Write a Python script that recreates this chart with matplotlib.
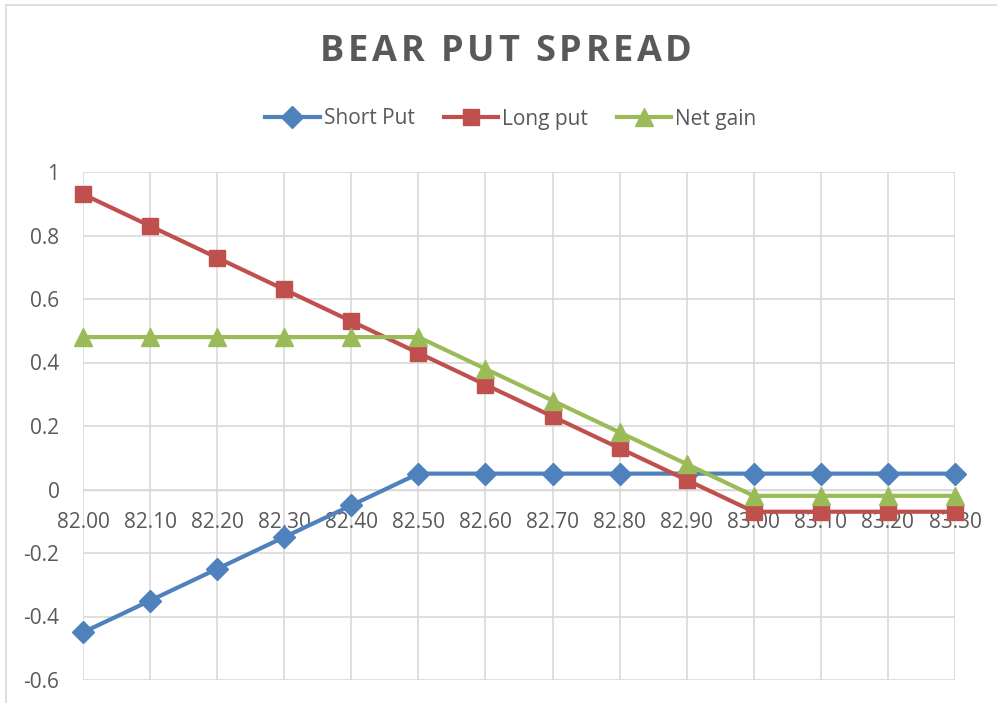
import matplotlib
matplotlib.use("Agg")
import matplotlib.pyplot as plt
from matplotlib.patches import Rectangle
from matplotlib.textpath import TextPath
from matplotlib.font_manager import FontProperties

categories = ["82.00", "82.10", "82.20", "82.30", "82.40", "82.50", "82.60",
              "82.70", "82.80", "82.90", "83.00", "83.10", "83.20", "83.30"]
short_put = [-0.45, -0.35, -0.25, -0.15, -0.05, 0.05, 0.05, 0.05, 0.05, 0.05, 0.05, 0.05, 0.05, 0.05]
long_put = [0.93, 0.83, 0.73, 0.63, 0.53, 0.43, 0.33, 0.23, 0.13, 0.03, -0.07, -0.07, -0.07, -0.07]
net_gain = [0.48, 0.48, 0.48, 0.48, 0.48, 0.48, 0.38, 0.28, 0.18, 0.08, -0.02, -0.02, -0.02, -0.02]
y_ticks = [-0.6, -0.4, -0.2, 0, 0.2, 0.4, 0.6, 0.8, 1]
y_labels = ["-0.6", "-0.4", "-0.2", "0", "0.2", "0.4", "0.6", "0.8", "1"]
title = "BEAR PUT SPREAD"

plt.rcParams['font.family'] = ['Open Sans', 'DejaVu Sans']
TXT = '#595959'
GRID = '#d9d9d9'

W, H = 997, 703
fig = plt.figure(figsize=(W / 100, H / 100), dpi=100)
fig.patch.set_facecolor('white')

# chart border (cropped)
fig.add_artist(Rectangle((6 / W, -0.05), 1.2, 1 - 5 / H + 0.05, transform=fig.transFigure,
                         fill=False, edgecolor=GRID, linewidth=1.2))

left, right, top, bottom = 83, 955, 172, 680
ax = fig.add_axes([left / W, 1 - bottom / H, (right - left) / W, (bottom - top) / H])
x = list(range(len(categories)))

ax.set_xlim(0, len(categories) - 1)
ax.set_ylim(-0.6, 1.0)
ax.set_yticks(y_ticks)
ax.set_yticklabels(y_labels)
ax.set_xticks(x)
ax.set_xticklabels(categories)

for s in ['top', 'right', 'left']:
    ax.spines[s].set_visible(False)
ax.spines['bottom'].set_position(('data', 0))
ax.spines['bottom'].set_color(GRID)
ax.spines['bottom'].set_linewidth(1)
ax.tick_params(axis='both', length=0, labelsize=15, colors=TXT)
ax.tick_params(axis='y', pad=17)
ax.tick_params(axis='x', pad=16)
ax.grid(True, color=GRID, linewidth=1.2)
ax.set_axisbelow(True)

lw = 3.0
l1, = ax.plot(x, short_put, color='#4F81BD', lw=lw, marker='D', ms=11, label='Short Put', clip_on=False, zorder=3)
l2, = ax.plot(x, long_put, color='#C0504D', lw=lw, marker='s', ms=12, label='Long put', clip_on=False, zorder=3)
l3, = ax.plot(x, net_gain, color='#9BBB59', lw=lw, marker='^', ms=13, label='Net gain', clip_on=False, zorder=3)

# title with letter spacing
fs = 26
fp = FontProperties(family='Open Sans', weight='bold', size=fs)
spacing = 3.6  # px
px_per_pt = 100 / 72
widths = []
for ch in title:
    if ch == ' ':
        tp = TextPath((0, 0), 'a a', prop=fp)
        tp2 = TextPath((0, 0), 'aa', prop=fp)
        w = (tp.get_extents().width - tp2.get_extents().width)
    else:
        tpa = TextPath((0, 0), ch + 'H', prop=fp)
        tph = TextPath((0, 0), 'H', prop=fp)
        w = tpa.get_extents().x1 - tph.get_extents().x1
    widths.append(w * px_per_pt)
total = sum(widths) + spacing * (len(title) - 1)
cx = 506
xpos = cx - total / 2
for ch, w in zip(title, widths):
    if ch != ' ':
        fig.text(xpos / W, 1 - 52 / H, ch, ha='left', va='center', fontsize=fs,
                 fontweight='bold', color=TXT)
    xpos += w + spacing

leg = fig.legend(handles=[l1, l2, l3], loc='center', bbox_to_anchor=(511 / W, 1 - 119 / H),
                 ncol=3, frameon=False, fontsize=15, labelcolor=TXT, handlelength=2.6,
                 handletextpad=0.2, columnspacing=1.4, markerscale=1.0)

fig.savefig("out.png", dpi=100, facecolor='white')
